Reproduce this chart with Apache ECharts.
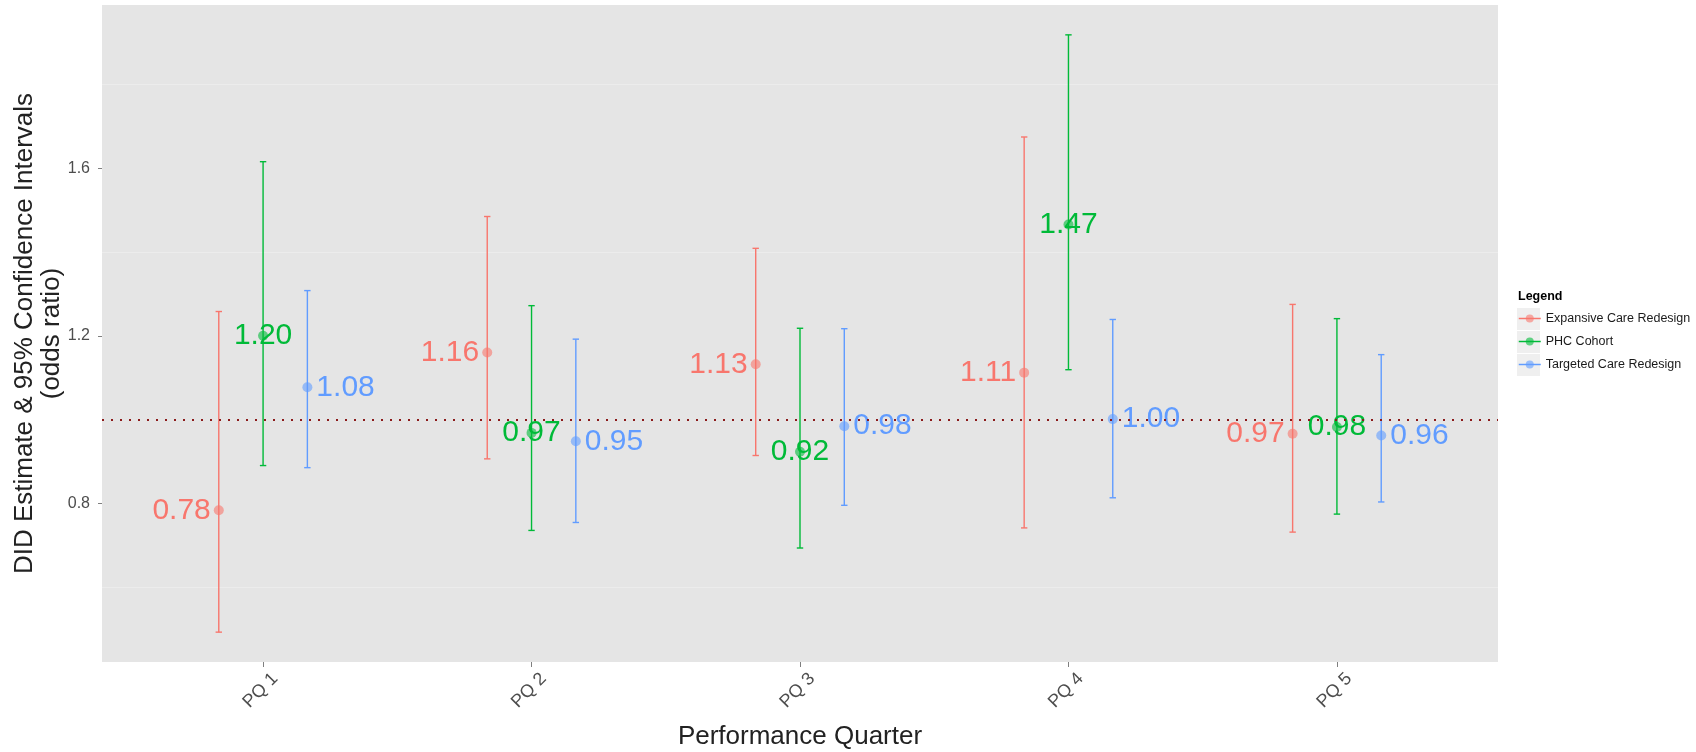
<!DOCTYPE html>
<html>
<head>
<meta charset="utf-8">
<script src="https://cdn.jsdelivr.net/npm/echarts@6/dist/echarts.min.js"></script>
<style>html,body{margin:0;padding:0;background:#fff}#c{width:1696px;height:752px}</style>
</head>
<body>
<div id="c"></div>
<script>
// ---- data ----
const quarters = ['PQ 1', 'PQ 2', 'PQ 3', 'PQ 4', 'PQ 5'];
const groups = ['Expansive Care Redesign', 'PHC Cohort', 'Targeted Care Redesign'];

const expansiveEst  = [0.783, 1.160, 1.132, 1.112, 0.966];
const expansiveLow  = [0.492, 0.906, 0.914, 0.741, 0.731];
const expansiveHigh = [1.258, 1.485, 1.409, 1.675, 1.275];

const phcEst  = [1.200, 0.968, 0.923, 1.466, 0.982];
const phcLow  = [0.890, 0.735, 0.693, 1.119, 0.774];
const phcHigh = [1.616, 1.272, 1.218, 1.919, 1.241];

const targetedEst  = [1.077, 0.948, 0.984, 1.001, 0.962];
const targetedLow  = [0.885, 0.754, 0.795, 0.813, 0.803];
const targetedHigh = [1.308, 1.192, 1.217, 1.239, 1.155];

const yTickValues = [0.8, 1.2, 1.6];
const minorGridValues = [0.6, 1.4, 1.8];
const referenceValue = 1.0;

// ---- styling / layout ----
const colors = ['#F8766D', '#00BA38', '#619CFF'];
const pointColors = ['rgba(248,118,109,0.6)', 'rgba(0,186,56,0.6)', 'rgba(97,156,255,0.6)'];
const labelPositions = ['left', 'inside', 'right'];
const labelDistances = [3, 0, 4];
const DODGE = 0.165;

const ests = [expansiveEst, phcEst, targetedEst];
const lows = [expansiveLow, phcLow, targetedLow];
const highs = [expansiveHigh, phcHigh, targetedHigh];

const allLo = Math.min(...lows.flat());
const allHi = Math.max(...highs.flat());
const span = allHi - allLo;
const yMin = allLo - 0.05 * span;
const yMax = allHi + 0.05 * span;
const qIdx = quarters.map((q, k) => k + 1);

function makeErrorRenderer(color) {
  return function (params, api) {
    const x = api.value(0), lo = api.value(1), hi = api.value(2);
    const a = api.coord([x, lo]);
    const b = api.coord([x, hi]);
    const hw = 3.2;
    const st = { stroke: color, lineWidth: 1.4, fill: null };
    return {
      type: 'group',
      children: [
        { type: 'line', shape: { x1: a[0], y1: a[1], x2: b[0], y2: b[1] }, style: st },
        { type: 'line', shape: { x1: a[0] - hw, y1: a[1], x2: a[0] + hw, y2: a[1] }, style: st },
        { type: 'line', shape: { x1: b[0] - hw, y1: b[1], x2: b[0] + hw, y2: b[1] }, style: st }
      ]
    };
  };
}

const series = [];
// gridlines helper (below marks)
series.push({
  type: 'line', name: 'grid', data: [], silent: true, z: 1,
  markLine: {
    silent: true, symbol: 'none', z: 1, animation: false,
    label: { show: false },
    lineStyle: { color: '#ececec', width: 1, type: 'solid' },
    data: minorGridValues.map(v => ({ yAxis: v }))
  }
});
groups.forEach((g, i) => {
  const off = (i - 1) * DODGE;
  series.push({
    type: 'custom', name: g + ' CI', z: 2,
    renderItem: makeErrorRenderer(colors[i]),
    encode: { x: 0, y: [1, 2] },
    data: lows[i].map((l, k) => [qIdx[k] + off, l, highs[i][k]])
  });
});
groups.forEach((g, i) => {
  const off = (i - 1) * DODGE;
  series.push({
    type: 'line', name: g, z: 3,
    symbol: 'circle', symbolSize: 10, showSymbol: true, showAllSymbol: true,
    lineStyle: { color: colors[i], width: 0, opacity: 0 },
    itemStyle: { color: pointColors[i] },
    label: {
      show: true, position: labelPositions[i], distance: labelDistances[i],
      fontSize: 30, fontFamily: 'Liberation Sans, Arial, sans-serif', color: colors[i],
      formatter: p => p.value[1].toFixed(2)
    },
    labelLayout: { hideOverlap: false },
    data: ests[i].map((v, k) => [qIdx[k] + off, v])
  });
});
// reference dotted line
series.push({
  type: 'line', name: 'ref', data: [], silent: true, z: 6,
  markLine: {
    silent: true, symbol: 'none', z: 6, animation: false,
    label: { show: false },
    lineStyle: { color: '#8b1a1a', width: 2.2, type: [2, 7] },
    data: [{ yAxis: referenceValue }]
  }
});

const chart = echarts.init(document.getElementById('c'), null, { renderer: 'canvas' });
const font = 'Liberation Sans, Arial, sans-serif';
chart.setOption({
  animation: false,
  backgroundColor: '#ffffff',
  textStyle: { fontFamily: font },
  grid: {
    left: 102, top: 5, width: 1396, height: 657, show: true, backgroundColor: '#e5e5e5', borderWidth: 0,
    containLabel: false, outerBoundsMode: 'none'
  },
  xAxis: {
    type: 'value', min: 0.4, max: 5.6,
    axisLine: { show: false },
    splitLine: { show: false },
    axisTick: { show: true, customValues: qIdx, length: 5, lineStyle: { color: '#7f7f7f', width: 1 } },
    axisLabel: {
      customValues: qIdx, rotate: 45, margin: 2, verticalAlign: 'top', padding: [8, 0, 0, 0],
      fontSize: 18, color: '#4d4d4d', fontFamily: font,
      formatter: v => quarters[Math.round(v) - 1]
    },
    name: 'Performance Quarter', nameLocation: 'middle', nameGap: 62, nameMoveOverlap: false,
    nameTextStyle: { fontSize: 26, color: '#222', fontFamily: font }
  },
  yAxis: {
    type: 'value', min: yMin, max: yMax,
    axisLine: { show: false },
    splitLine: { show: false },
    axisTick: { show: true, customValues: yTickValues, length: 4, lineStyle: { color: '#7f7f7f', width: 1 } },
    axisLabel: {
      customValues: yTickValues, margin: 12, fontSize: 16, color: '#4d4d4d', fontFamily: font,
      formatter: v => v.toFixed(1)
    },
    name: 'DID Estimate & 95% Confidence Intervals\n(odds ratio)', nameLocation: 'middle', nameGap: 37,
    nameMoveOverlap: false,
    nameTextStyle: { fontSize: 26, lineHeight: 27, color: '#222', fontFamily: font }
  },
  legend: {
    data: groups, orient: 'vertical', left: 1518, top: 311, padding: 0,
    itemWidth: 22, itemHeight: 10, itemGap: 8, selectedMode: false,
    lineStyle: { opacity: 1, width: 1.5 },
    textStyle: { fontSize: 12.5, color: '#1a1a1a', lineHeight: 15, fontFamily: font }
  },
  graphic: [
    { type: 'text', left: 1518, top: 290, z: 10, style: { text: 'Legend', font: 'bold 12.5px ' + font, fill: '#000' } },
    { type: 'rect', left: 1517, top: 308, z: -1, shape: { width: 23, height: 22 }, style: { fill: '#efefef' } },
    { type: 'rect', left: 1517, top: 331, z: -1, shape: { width: 23, height: 22 }, style: { fill: '#efefef' } },
    { type: 'rect', left: 1517, top: 354, z: -1, shape: { width: 23, height: 22 }, style: { fill: '#efefef' } }
  ],
  series: series
});
</script>
</body>
</html>
